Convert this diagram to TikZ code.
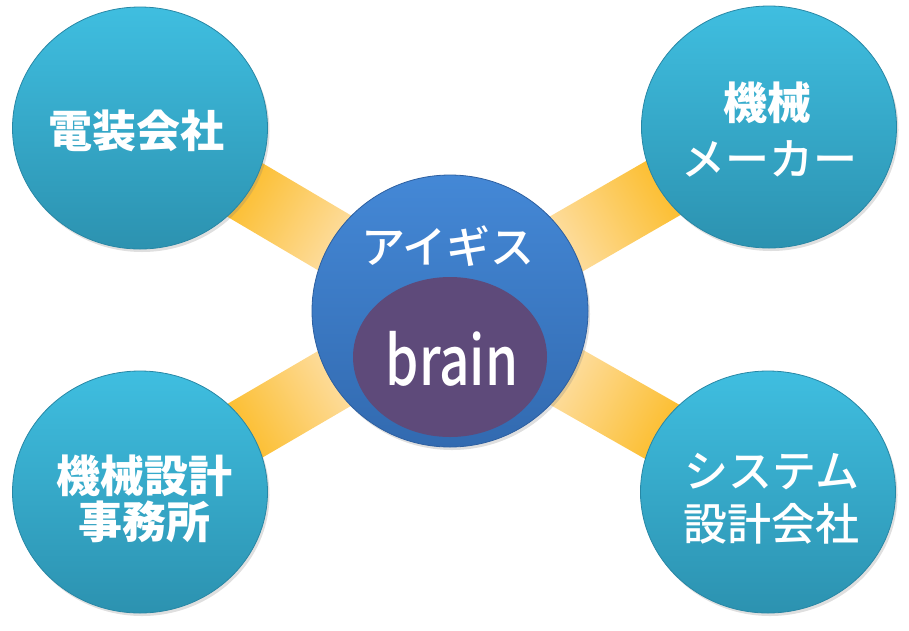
\documentclass[tikz,border=0pt]{standalone}
\usepackage{fontspec}
\newfontfamily\jp{Noto Sans CJK JP}
\newfontfamily\jpm{Noto Sans CJK JP Medium}
\usetikzlibrary{shapes.geometric,calc,shadows,backgrounds}
\definecolor{tealT}{RGB}{63,190,224}
\definecolor{tealB}{RGB}{44,146,176}
\definecolor{tealE}{RGB}{40,135,165}
\definecolor{blueT}{RGB}{68,136,214}
\definecolor{blueB}{RGB}{50,106,176}
\definecolor{blueE}{RGB}{45,95,160}
\definecolor{purp}{RGB}{94,74,122}
\definecolor{barO}{RGB}{252,188,40}
\definecolor{barL}{RGB}{253,224,170}
\begin{document}
\begin{tikzpicture}[x=1pt,y=-1pt,
  sat/.style={ellipse, minimum width=255pt, minimum height=242pt, inner sep=0pt,
    top color=tealT, bottom color=tealB, draw=tealE, line width=0.8pt,
    drop shadow={opacity=0.25, shadow xshift=2pt, shadow yshift=-3pt}},
  hub/.style={ellipse, minimum width=276pt, minimum height=272pt, inner sep=0pt,
    top color=blueT, bottom color=blueB, draw=blueE, line width=0.8pt,
    drop shadow={opacity=0.25, shadow xshift=2pt, shadow yshift=-3pt}},
  core/.style={ellipse, minimum width=194pt, minimum height=160pt, inner sep=0pt, fill=purp},
  lbl/.style={text=white, anchor=base, inner sep=0pt, font=\jpm\fontsize{44}{44}\selectfont},
  lblb/.style={lbl, font=\jp\bfseries\fontsize{44}{44}\selectfont},
  bar/.style={top color=barL, bottom color=barO}
]
\useasboundingbox (0,0) rectangle (909,630);

% circles
\node[sat] (cTL) at (140,128) {};
\node[sat] (cTR) at (769,127) {};
\node[sat] (cBL) at (140,492) {};
\node[sat] (cBR) at (768,492) {};
\node[hub] (cC) at (450,311) {};
\node[core] (eBrain) at (450,357) {};

% connector bars
\begin{pgfonlayer}{background}
\foreach \n/\a in {cTL/239.45, cTR/120, cBL/300.3, cBR/60.4}{
  \coordinate (A1) at ($(cC.center)!120pt!(\n.center)$);
  \coordinate (A2) at ($(\n.center)!112pt!(cC.center)$);
  \path[bar, shading angle=\a]
    ($(A1)!32pt!90:(A2)$) -- ($(A2)!32pt!-90:(A1)$) --
    ($(A2)!32pt!90:(A1)$) -- ($(A1)!32pt!-90:(A2)$) -- cycle;
}
\end{pgfonlayer}

% labels
\node[lblb] (tTL) at (136,147) {電装会社};
\node[lblb] (tTR1) at (767,119) {機械};
\node[lbl]  (tTR2) at (769,175) {メーカー};
\node[lblb] (tBL1) at (144,492) {機械設計};
\node[lblb] (tBL2) at (144,538) {事務所};
\node[lbl]  (tBR1) at (772,487) {システム};
\node[lbl]  (tBR2) at (771,540) {設計会社};
\node[lbl]  (tC) at (448,263) {アイギス};
\node[text=white, anchor=base, inner sep=0pt, xscale=0.78,
  font=\jpm\fontsize{68}{68}\selectfont] (tBrain) at (452,385) {brain};
\end{tikzpicture}
\end{document}
